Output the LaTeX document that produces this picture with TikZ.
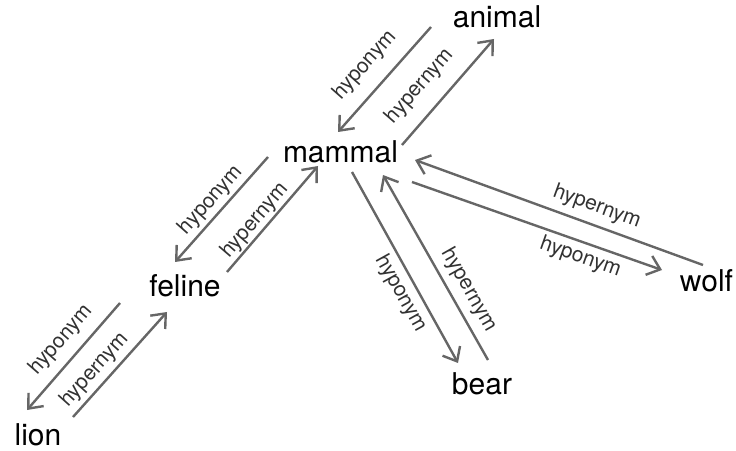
\documentclass[tikz,border=0pt]{standalone}
\usepackage{fontspec}
\setmainfont{TeX Gyre Heros}
\usetikzlibrary{arrows.meta}
\definecolor{arrgray}{RGB}{102,102,102}
\definecolor{lblgray}{RGB}{50,50,50}
\tikzset{
  word/.style={anchor=base, inner sep=0pt, font=\fontsize{30}{36}\selectfont, text=black},
  arr/.style={draw=arrgray, line width=2.4pt, -{Straight Barb[length=12pt,width=20pt]}},
  lbl/.style={sloped, inner sep=1pt, font=\fontsize{21}{25}\selectfont, text=lblgray},
}
\begin{document}
\begin{tikzpicture}[x=1pt,y=1pt]
\useasboundingbox (0,0) rectangle (736,450);
\node[word] (animal) at (497,422) {animal};
\node[word] (mammal) at (340.5,287) {mammal};
\node[word] (feline) at (185,153) {feline};
\node[word] (lion) at (38,5) {lion};
\node[word] (bear) at (482,56) {bear};
\node[word] (wolf) at (706.5,158) {wolf};
% animal <-> mammal
\draw[arr] ([shift={(-66,1)}]animal.base) -- node[lbl, pos=0.515, above=12pt] (l1) {hyponym} ([shift={(-2.5,31)}]mammal.base);
\draw[arr] ([shift={(61.5,18)}]mammal.base) -- node[lbl, pos=0.40, above=13pt] (l2) {hypernym} ([shift={(-3,-11)}]animal.base);
% mammal <-> feline
\draw[arr] ([shift={(-72.5,6)}]mammal.base) -- node[lbl, pos=0.50, above=2pt] (l3) {hyponym} ([shift={(-10,35)}]feline.base);
\draw[arr] ([shift={(42,25)}]feline.base) -- node[lbl, pos=0.41, above=0pt] (l4) {hypernym} ([shift={(-22.5,-3)}]mammal.base);
% feline <-> lion
\draw[arr] ([shift={(-65,-6)}]feline.base) -- node[lbl, pos=0.47, above=8pt] (l5) {hyponym} ([shift={(-11,35)}]lion.base);
\draw[arr] ([shift={(35,28)}]lion.base) -- node[lbl, pos=0.35, above=3pt] (l6) {hypernym} ([shift={(-18,-15)}]feline.base);
% mammal <-> bear
\draw[arr] ([shift={(11.5,-9)}]mammal.base) -- node[lbl, pos=0.596, below=4pt] (l7) {hyponym} ([shift={(-24,31)}]bear.base);
\draw[arr] ([shift={(6,34)}]bear.base) -- node[lbl, pos=0.33, above=6pt] (l8) {hypernym} ([shift={(42.5,-12)}]mammal.base);
% mammal <-> wolf
\draw[arr] ([shift={(-3.5,27)}]wolf.base) -- node[lbl, pos=0.39, above=6pt] (l9) {hypernym} ([shift={(74.5,3)}]mammal.base);
\draw[arr] ([shift={(71.5,-19)}]mammal.base) -- node[lbl, pos=0.694, below=3pt] (l10) {hyponym} ([shift={(-44.5,22)}]wolf.base);
\end{tikzpicture}
\end{document}
